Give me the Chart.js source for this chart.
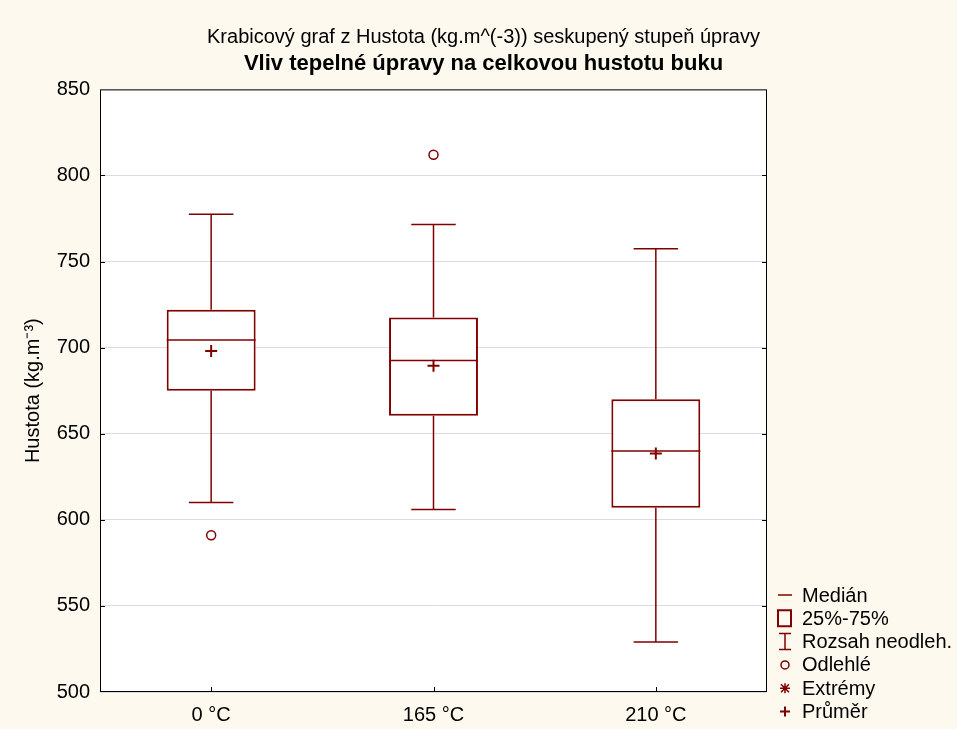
<!DOCTYPE html>
<html>
<head>
<meta charset="utf-8">
<script src="https://cdn.jsdelivr.net/npm/chart.js@4.4.0/dist/chart.umd.min.js"></script>
<style>
  body { margin: 0; background: #fdf9ee; }
  #wrap { width: 957px; height: 729px; }
</style>
</head>
<body>
<div id="wrap"><canvas id="boxChart" width="957" height="729"></canvas></div>
<script>
// data
const categories = ['0 °C', '165 °C', '210 °C'];
const whiskerLow = [610, 606, 529];
const q1 = [675, 660.5, 607];
const median = [704.5, 692.5, 640];
const q3 = [722, 717.5, 670];
const whiskerHigh = [777.5, 771.5, 757.5];
const means = [698, 689.5, 638.5];
const outliers = [591, 812, null];
const yMin = 500, yMax = 850, yStep = 50;

const dark = '#800000';
const font = 'Liberation Sans, Arial, sans-serif';

const background = {
    id: 'background',
    beforeDraw: (chart) => {
        const { ctx, chartArea: a } = chart;
        ctx.save();
        ctx.fillStyle = '#fdf9ee';
        ctx.fillRect(0, 0, chart.width, chart.height);
        ctx.fillStyle = '#ffffff';
        ctx.fillRect(a.left, a.top, a.right - a.left, a.bottom - a.top);
        ctx.restore();
    }
};

// whiskers behind the boxes, median lines on top
const whiskers = {
    id: 'whiskers',
    beforeDatasetsDraw: (chart) => {
        const { ctx, scales: { y } } = chart;
        const bars = chart.getDatasetMeta(0).data;
        ctx.save();
        ctx.strokeStyle = dark;
        ctx.lineWidth = 1.5;
        bars.forEach((bar, i) => {
            const half = bar.width / 4;
            ctx.beginPath();
            ctx.moveTo(bar.x, y.getPixelForValue(whiskerLow[i]));
            ctx.lineTo(bar.x, y.getPixelForValue(q1[i]));
            ctx.moveTo(bar.x, y.getPixelForValue(q3[i]));
            ctx.lineTo(bar.x, y.getPixelForValue(whiskerHigh[i]));
            ctx.moveTo(bar.x - half, y.getPixelForValue(whiskerLow[i]));
            ctx.lineTo(bar.x + half, y.getPixelForValue(whiskerLow[i]));
            ctx.moveTo(bar.x - half, y.getPixelForValue(whiskerHigh[i]));
            ctx.lineTo(bar.x + half, y.getPixelForValue(whiskerHigh[i]));
            ctx.stroke();
        });
        ctx.restore();
    },
    afterDatasetDraw: (chart, args) => {
        if (args.index !== 0) return;
        const { ctx, scales: { y } } = chart;
        ctx.save();
        ctx.strokeStyle = dark;
        ctx.lineWidth = 1.5;
        chart.getDatasetMeta(0).data.forEach((bar, i) => {
            const py = y.getPixelForValue(median[i]);
            ctx.beginPath();
            ctx.moveTo(bar.x - bar.width / 2, py);
            ctx.lineTo(bar.x + bar.width / 2, py);
            ctx.stroke();
        });
        ctx.restore();
    }
};

// frame with inward tick marks on left, right and bottom
const frame = {
    id: 'frame',
    afterDraw: (chart) => {
        const { ctx, chartArea: a, scales: { x, y } } = chart;
        ctx.save();
        ctx.strokeStyle = '#000';
        ctx.lineWidth = 1;
        ctx.strokeRect(a.left + 0.5, a.top + 0.5, a.right - a.left - 1, a.bottom - a.top - 1);
        ctx.beginPath();
        for (let v = yMin + yStep; v < yMax; v += yStep) {
            const py = Math.round(y.getPixelForValue(v)) + 0.5;
            ctx.moveTo(a.left, py); ctx.lineTo(a.left + 5, py);
            ctx.moveTo(a.right, py); ctx.lineTo(a.right - 5, py);
        }
        categories.forEach((c, i) => {
            const px = Math.round(x.getPixelForValue(i)) + 0.5;
            ctx.moveTo(px, a.bottom); ctx.lineTo(px, a.bottom - 5);
        });
        ctx.stroke();
        ctx.restore();
    }
};

const legendItems = ['Medián', '25%-75%', 'Rozsah neodleh.', 'Odlehlé', 'Extrémy', 'Průměr'];

const sideLegend = {
    id: 'sideLegend',
    afterDraw: (chart) => {
        const ctx = chart.ctx;
        const ix = 785, tx = 802, y0 = 595, dy = 23.3;
        ctx.save();
        ctx.strokeStyle = dark;
        ctx.lineWidth = 1.5;
        ctx.fillStyle = '#000';
        ctx.font = '20px ' + font;
        ctx.textBaseline = 'middle';
        legendItems.forEach((label, i) => {
            const cy = y0 + i * dy;
            ctx.beginPath();
            if (i === 0) {
                ctx.moveTo(ix - 7, cy); ctx.lineTo(ix + 7, cy);
            } else if (i === 1) {
                ctx.lineWidth = 2;
                ctx.rect(ix - 7, cy - 8, 13, 16);
            } else if (i === 2) {
                ctx.lineWidth = 1.5;
                ctx.moveTo(ix, cy - 8); ctx.lineTo(ix, cy + 8);
                ctx.moveTo(ix - 6, cy - 8); ctx.lineTo(ix + 6, cy - 8);
                ctx.moveTo(ix - 6, cy + 8); ctx.lineTo(ix + 6, cy + 8);
            } else if (i === 3) {
                ctx.arc(ix, cy, 4, 0, Math.PI * 2);
            } else if (i === 4) {
                ctx.moveTo(ix - 5, cy); ctx.lineTo(ix + 5, cy);
                ctx.moveTo(ix, cy - 5); ctx.lineTo(ix, cy + 5);
                ctx.moveTo(ix - 4, cy - 4); ctx.lineTo(ix + 4, cy + 4);
                ctx.moveTo(ix - 4, cy + 4); ctx.lineTo(ix + 4, cy - 4);
            } else {
                ctx.lineWidth = 2;
                ctx.moveTo(ix - 5, cy); ctx.lineTo(ix + 5, cy);
                ctx.moveTo(ix, cy - 5); ctx.lineTo(ix, cy + 5);
            }
            ctx.stroke();
            ctx.fillText(label, tx, cy + 1);
        });
        ctx.restore();
    }
};

const ctx = document.getElementById('boxChart').getContext('2d');
const myChart = new Chart(ctx, {
    type: 'bar',
    data: {
        labels: categories,
        datasets: [{
            label: '25%-75%',
            data: categories.map((c, i) => [q1[i], q3[i]]),
            backgroundColor: '#ffffff',
            borderColor: dark,
            borderWidth: 2,
            borderSkipped: false,
            barPercentage: 0.4,
            categoryPercentage: 1.0,
            order: 3
        }, {
            type: 'line',
            label: 'Průměr',
            data: means,
            showLine: false,
            pointStyle: 'cross',
            pointRadius: 6,
            pointBorderWidth: 2,
            borderColor: dark,
            order: 1
        }, {
            type: 'line',
            label: 'Odlehlé',
            data: outliers,
            showLine: false,
            pointStyle: 'circle',
            pointRadius: 4.5,
            pointBorderWidth: 1.5,
            borderColor: dark,
            backgroundColor: '#ffffff',
            order: 2
        }]
    },
    options: {
        responsive: false,
        animation: false,
        layout: { padding: { left: 10, right: 0, top: 0, bottom: 0 } },
        plugins: {
            legend: { display: false },
            tooltip: { enabled: false },
            title: {
                display: true,
                text: 'Krabicový graf z Hustota (kg.m^(-3)) seskupený stupeň úpravy',
                color: '#000',
                font: { family: font, size: 20, weight: 'normal' },
                padding: { top: 25, bottom: 2 }
            },
            subtitle: {
                display: true,
                text: 'Vliv tepelné úpravy na celkovou hustotu buku',
                color: '#000',
                font: { family: font, size: 22, weight: 'bold' },
                padding: { bottom: 12 }
            }
        },
        scales: {
            x: {
                offset: true,
                grid: { display: false, drawTicks: false },
                border: { display: false },
                ticks: { color: '#000', font: { family: font, size: 20 }, padding: 11 },
                afterFit: (s) => { s.height = 37; }
            },
            y: {
                min: yMin,
                max: yMax,
                grid: { color: '#dcdcdc', drawTicks: false },
                border: { display: false },
                ticks: { stepSize: yStep, color: '#000', font: { family: font, size: 20 }, padding: 10 },
                title: {
                    display: true,
                    text: 'Hustota (kg.m⁻³)',
                    color: '#000',
                    font: { family: font, size: 20 },
                    padding: { top: 11, bottom: 0 }
                },
                afterFit: (s) => { s.width = 90; }
            },
            spacer: {
                type: 'linear',
                position: 'right',
                display: true,
                grid: { display: false },
                border: { display: false },
                ticks: { display: false },
                afterFit: (s) => { s.width = 190; }
            }
        }
    },
    plugins: [background, whiskers, frame, sideLegend]
});
</script>
</body>
</html>
